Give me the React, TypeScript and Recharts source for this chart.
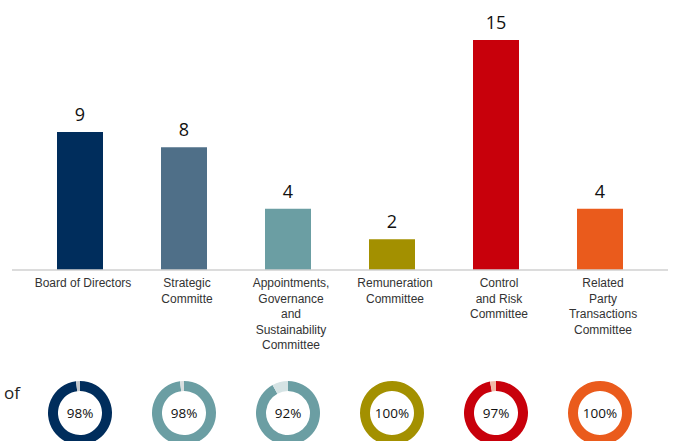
import * as React from "react";
import { BarChart, Bar, XAxis, YAxis, LabelList, Cell, PieChart, Pie, Label } from "recharts";

const categories = [
  ["Board of Directors"],
  ["Strategic", "Committe"],
  ["Appointments,", "Governance", "and", "Sustainability", "Committee"],
  ["Remuneration", "Committee"],
  ["Control", "and Risk", "Committee"],
  ["Related", "Party", "Transactions", "Committee"],
];
const meetings = [9, 8, 4, 2, 15, 4];
const attendance = [98, 98, 92, 100, 97, 100];
const barColors = ["#002d5c", "#4f6f88", "#6b9ea3", "#a39000", "#c8000b", "#ea5b1c"];
const ringColors = ["#002d5c", "#6b9ea3", "#6b9ea3", "#a39000", "#c8000b", "#ea5b1c"];
const restColors = ["#c4c8cc", "#d9dedf", "#d5e3e4", "#e8e4c8", "#f0b9a8", "#f6c9b3"];

const data = categories.map((lines, i) => ({ name: lines.join(" "), lines, value: meetings[i] }));

const W = 674;
const H = 441;
const LEFT = 12;
const RIGHT = 6;
const PAD = 16;
const band = (W - LEFT - RIGHT - 2 * PAD) / categories.length;
const DONUT = 70;

function CategoryTick(props: any) {
  const { x, y, index } = props;
  const lines = categories[index] || [];
  return (
    <text
      x={x + 3}
      y={y}
      textAnchor="middle"
      fill="#333"
      fontSize={12}
      fontFamily="'Liberation Sans Narrow', 'Liberation Sans', sans-serif"
    >
      {lines.map((l, k) => (
        <tspan key={k} x={x + 3} dy={k === 0 ? 9 : 15.5}>
          {l}
        </tspan>
      ))}
    </text>
  );
}

export default function App() {
  return (
    <div style={{ position: "absolute", left: 0, top: 0, width: W, height: H, background: "#fff", overflow: "hidden" }}>
      <div style={{ position: "absolute", left: 0, top: 0 }}>
        <BarChart width={W} height={H} data={data} margin={{ top: 40, right: RIGHT, bottom: 111, left: LEFT }}>
          <XAxis
            dataKey="name"
            interval={0}
            tickLine={false}
            axisLine={{ stroke: "#d0d0d0", strokeWidth: 1.5 }}
            tick={<CategoryTick />}
            tickMargin={2}
            height={60}
            padding={{ left: PAD, right: PAD }}
          />
          <YAxis hide domain={[0, 15]} />
          <Bar dataKey="value" barSize={46} isAnimationActive={false}>
            {data.map((d, i) => (
              <Cell key={d.name} fill={barColors[i]} />
            ))}
            <LabelList
              dataKey="value"
              position="top"
              offset={11}
              fill="#111"
              fontSize={18}
              fontWeight={500}
              fontFamily="'Open Sans', sans-serif"
            />
          </Bar>
        </BarChart>
      </div>
      {attendance.map((v, i) => (
        <div
          key={i}
          style={{ position: "absolute", left: LEFT + PAD + band * (i + 0.5) - DONUT / 2, top: 413 - DONUT / 2 }}
        >
          <PieChart width={DONUT} height={DONUT} margin={{ top: 0, right: 0, bottom: 0, left: 0 }}>
            <Pie
              data={[{ v }, { v: 100 - v }]}
              dataKey="v"
              cx="50%"
              cy="50%"
              innerRadius={22}
              outerRadius={32}
              startAngle={90}
              endAngle={-270}
              stroke="none"
              isAnimationActive={false}
            >
              <Cell fill={ringColors[i]} />
              <Cell fill={restColors[i]} />
              <Label
                value={`${v}%`}
                position="center"
                fill="#111"
                fontSize={13.5}
                fontWeight={500}
                fontFamily="'Open Sans', sans-serif"
              />
            </Pie>
          </PieChart>
        </div>
      ))}
      <div
        style={{
          position: "absolute",
          left: 4,
          top: 381,
          fontFamily: "'Open Sans', sans-serif",
          fontSize: 17,
          color: "#222",
        }}
      >
        of
      </div>
    </div>
  );
}
